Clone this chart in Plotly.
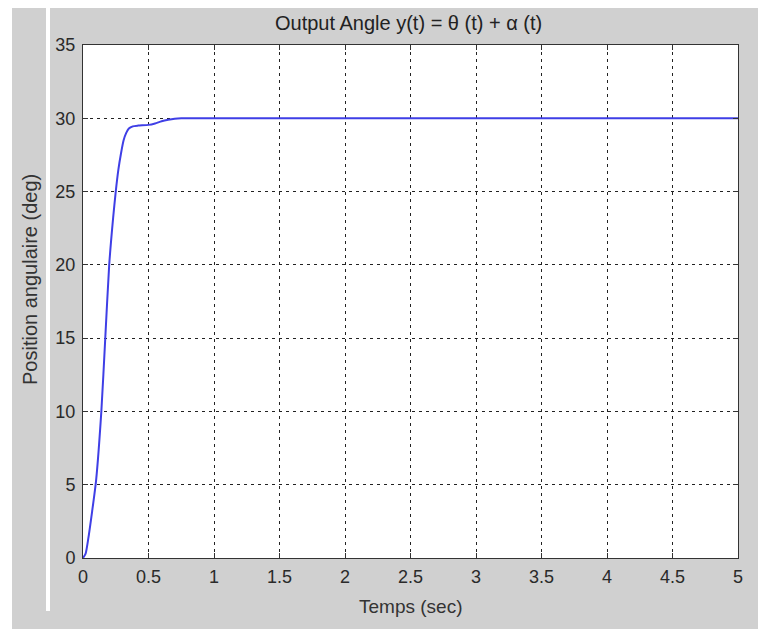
import plotly.graph_objects as go

# Data
time_s = [0, 0.02, 0.04, 0.07, 0.10, 0.14, 0.17, 0.20, 0.23, 0.25, 0.27, 0.29,
          0.31, 0.33, 0.35, 0.38, 0.42, 0.50, 0.55, 0.60, 0.65, 0.70, 0.75, 0.80,
          1.0, 2.0, 3.0, 4.0, 5.0]
angle_deg = [0, 0.3, 1.3, 3.2, 5.3, 10, 15, 20, 23.2, 25, 26.5, 27.6,
             28.5, 29.0, 29.3, 29.45, 29.5, 29.55, 29.65, 29.8, 29.9, 29.97, 30, 30,
             30, 30, 30, 30, 30]
x_ticks = [0, 0.5, 1, 1.5, 2, 2.5, 3, 3.5, 4, 4.5, 5]
x_tick_labels = ["0", "0.5", "1", "1.5", "2", "2.5", "3", "3.5", "4", "4.5", "5"]
y_ticks = [0, 5, 10, 15, 20, 25, 30, 35]
y_tick_labels = ["0", "5", "10", "15", "20", "25", "30", "35"]

W, H = 758, 629
L, R, T, B = 83, 20, 45, 71
pw, ph = W - L - R, H - T - B

def px(x):
    return (x - L) / pw

def py(y):
    return (H - B - y) / ph

FONT = "Liberation Sans, Arial, sans-serif"
GRAY = "#d0d0d0"

fig = go.Figure()
fig.add_trace(go.Scatter(x=time_s, y=angle_deg, mode="lines",
                         line=dict(color="#3f3fe6", width=2, shape="spline", smoothing=0.6),
                         hoverinfo="skip", showlegend=False))

axis_common = dict(showgrid=True, gridcolor="#222222", griddash="3px,4px", gridwidth=1,
                   showline=True, linecolor="#333333", linewidth=1, mirror="ticks",
                   ticks="inside", ticklen=5, tickcolor="#333333", zeroline=False,
                   tickfont=dict(family=FONT, size=18, color="#2a2a2a"))

fig.update_xaxes(range=[0, 5], tickvals=x_ticks, ticktext=x_tick_labels,
                 ticklabelstandoff=2, **axis_common)
fig.update_yaxes(range=[0, 35], tickvals=y_ticks, ticktext=y_tick_labels,
                 ticklabelstandoff=3, **axis_common)

shapes = [
    dict(type="rect", xref="paper", yref="paper", x0=px(0), x1=px(W), y0=py(0), y1=py(8),
         fillcolor="white", line=dict(width=0), layer="above"),
    dict(type="rect", xref="paper", yref="paper", x0=px(0), x1=px(12), y0=py(0), y1=py(H),
         fillcolor="white", line=dict(width=0), layer="above"),
    dict(type="rect", xref="paper", yref="paper", x0=px(46), x1=px(50), y0=py(8), y1=py(611),
         fillcolor="white", line=dict(width=0), layer="above"),
]

annotations = [
    dict(text="Output Angle y(t) = θ (t) + α (t)", xref="paper", yref="paper",
         x=px(408), y=py(23), showarrow=False, xanchor="center", yanchor="middle",
         font=dict(family=FONT, size=20, color="#222222")),
    dict(text="Temps (sec)", xref="paper", yref="paper",
         x=px(410), y=py(606), showarrow=False, xanchor="center", yanchor="middle",
         font=dict(family=FONT, size=19, color="#333333")),
    dict(text="Position angulaire (deg)", xref="paper", yref="paper",
         x=px(30), y=py(280), showarrow=False, xanchor="center", yanchor="middle",
         textangle=-90, font=dict(family=FONT, size=20, color="#333333")),
]

fig.update_layout(width=W, height=H, margin=dict(l=L, r=R, t=T, b=B),
                  paper_bgcolor=GRAY, plot_bgcolor="white",
                  shapes=shapes, annotations=annotations, showlegend=False)

fig.write_html("out.html", config={"displayModeBar": False},
               post_script="document.body.style.margin='0';document.body.style.overflow='hidden';")
